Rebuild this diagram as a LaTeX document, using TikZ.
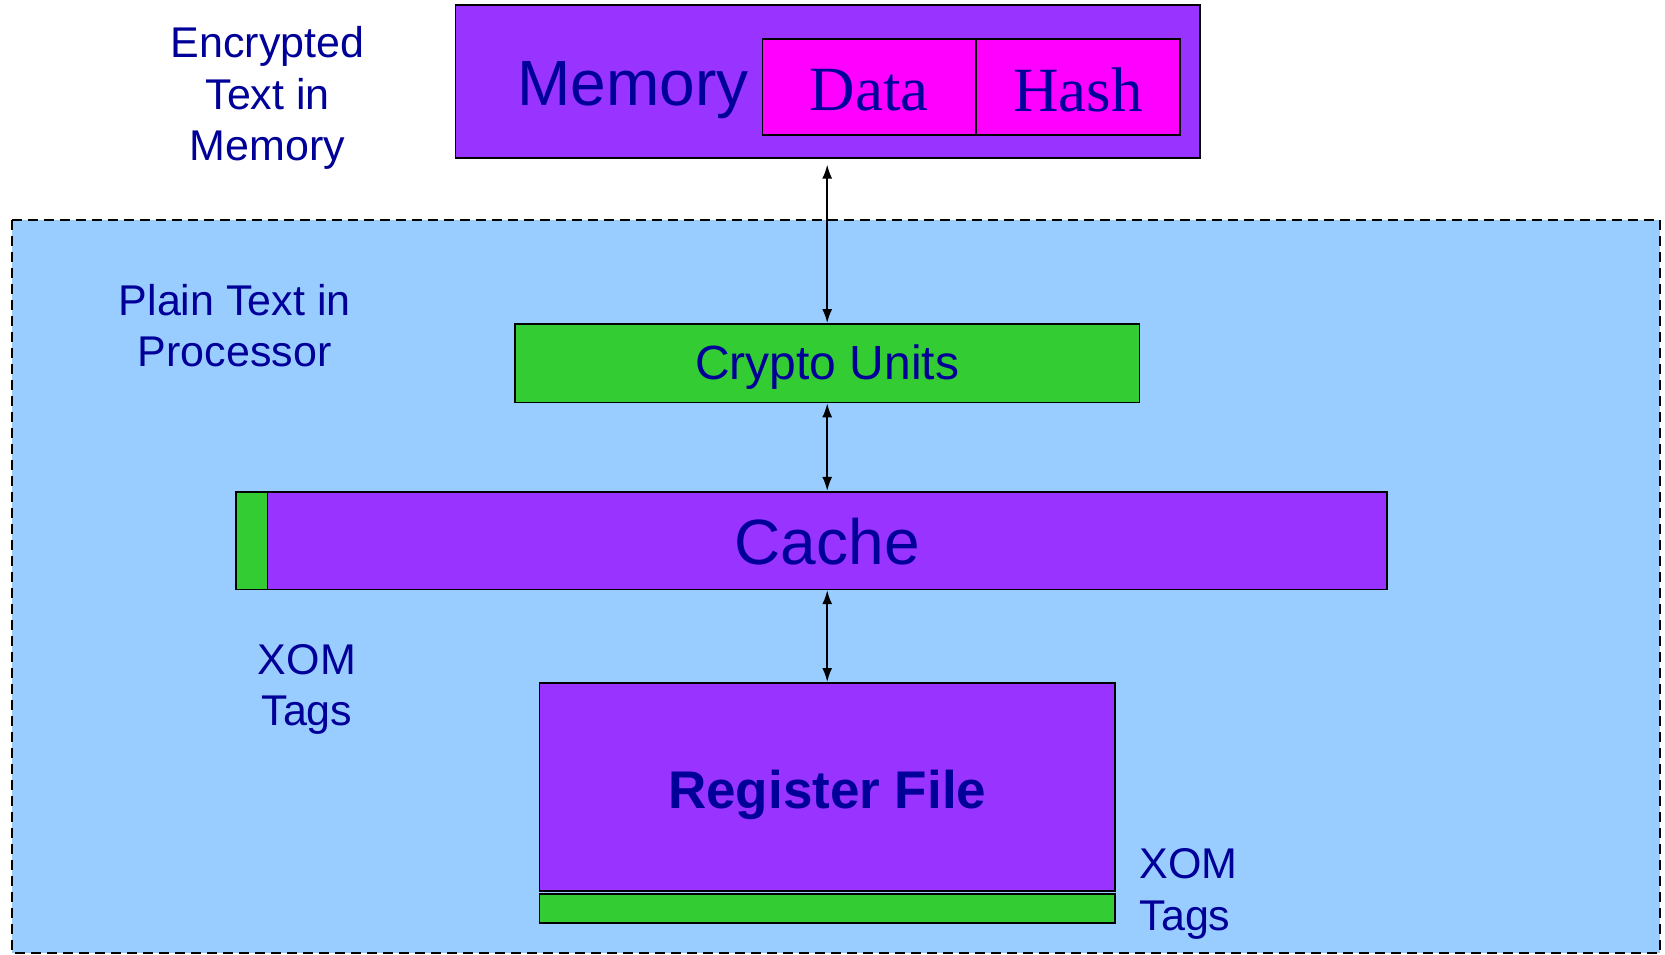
\documentclass[tikz,border=0pt]{standalone}
\usepackage{fontspec}
\setmainfont{Liberation Sans}
\newfontfamily\seriffont{Liberation Serif}
\usetikzlibrary{arrows.meta}
\definecolor{purp}{HTML}{9933FF}
\definecolor{mag}{HTML}{FF00FF}
\definecolor{grn}{HTML}{33CC33}
\definecolor{lblue}{HTML}{99CCFF}
\definecolor{navy}{HTML}{000099}
\tikzset{
  blk/.style={draw=black, line width=1.6pt, rectangle, inner sep=0pt, text=navy},
  txt/.style={text=navy, inner sep=0pt},
  lbl/.style={text=navy, align=center, inner sep=0pt, font=\fontsize{43}{51.5}\selectfont},
  conn/.style={{Latex[length=14pt,width=10pt]}-{Latex[length=14pt,width=10pt]}, line width=1.8pt},
}
\begin{document}
\begin{tikzpicture}[x=1pt,y=-1pt]
\useasboundingbox (0,0) rectangle (1665,955);
% processor region
\draw[fill=lblue, dashed, dash pattern=on 10pt off 6pt, line width=2.2pt] (11.7,219.8) rectangle (1659.7,953);
% memory
\node[blk, fill=purp, minimum width=744.4pt, minimum height=152.9pt] (mem) at (827.8,81.75) {};
\node[blk, fill=mag, minimum width=213.4pt, minimum height=95.6pt] (data) at (869.2,87.1) {};
\node[blk, fill=mag, minimum width=203.9pt, minimum height=95.6pt] (hash) at (1077.85,87.1) {};
\node[txt, font=\fontsize{64}{64}\selectfont] (memtxt) at (633,90) {Memory};
\node[txt, font=\seriffont\fontsize{63}{63}\selectfont] (datatxt) at (data.center) [yshift=-3pt] {Data};
\node[txt, font=\seriffont\fontsize{63}{63}\selectfont] (hashtxt) at (hash.center) [yshift=-3pt] {Hash};
\node[lbl] (enc) at (267.6,98) {Encrypted\\Text in\\Memory};
\node[lbl] (plain) at (234.7,325.5) {Plain Text in\\Processor};
% crypto
\node[blk, fill=grn, minimum width=624.4pt, minimum height=78.6pt] (crypto) at (827.2,363.2) {};
\node[txt, font=\fontsize{48}{48}\selectfont] (cryptotxt) at (crypto.center) [yshift=-4pt] {Crypto Units};
% cache
\node[blk, fill=grn, minimum width=31.9pt, minimum height=97.7pt] (ctag) at (251.65,540.55) {};
\node[blk, fill=purp, minimum width=1119.2pt, minimum height=97.7pt] (cache) at (827.2,540.55) {};
\node[txt, font=\fontsize{64}{64}\selectfont] (cachetxt) at (cache.center) [yshift=-1.5pt] {Cache};
\node[lbl] (xom1) at (306.9,689.5) {XOM\\Tags};
% register file
\node[blk, fill=purp, minimum width=575.6pt, minimum height=208.2pt] (reg) at (827.2,786.9) {};
\node[txt, font=\bfseries\fontsize{53}{53}\selectfont] (regtxt) at (reg.center) [yshift=-8pt] {Register File};
\node[blk, fill=grn, minimum width=575.6pt, minimum height=28.7pt] (rtag) at (827.2,908.45) {};
\node[lbl, align=left, anchor=west] (xom2) at (1139.4,894) {XOM\\Tags};
% connectors
\coordinate (memlow) at (827.2,164.6);
\draw[conn] (memlow) -- (crypto.north);
\draw[conn] (crypto.south) -- (cache.north);
\draw[conn] (cache.south) -- (reg.north);
\end{tikzpicture}
\end{document}
